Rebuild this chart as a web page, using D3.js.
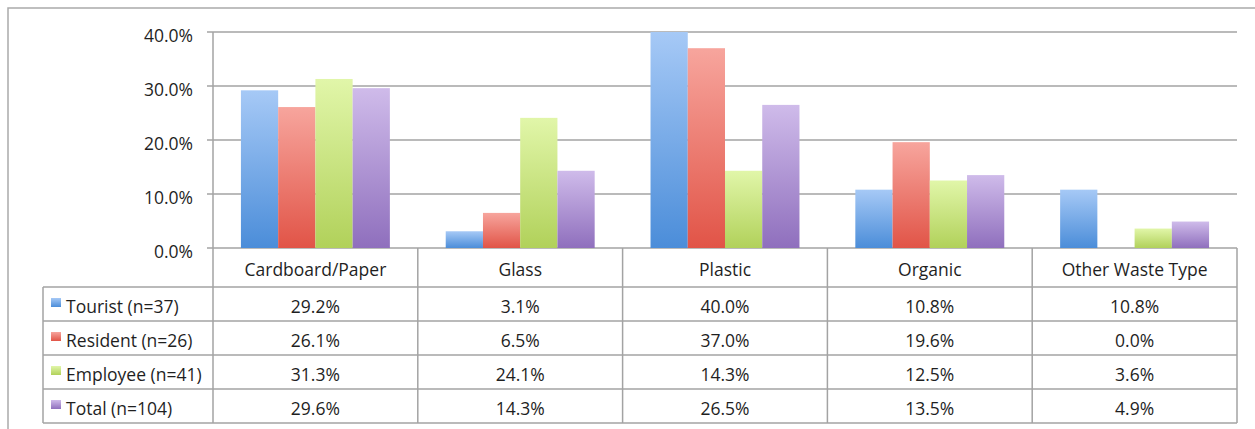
<!DOCTYPE html>
<html>
<head>
<meta charset="utf-8">
<script src="https://cdn.jsdelivr.net/npm/d3@7"></script>
<style>
  html, body { margin: 0; padding: 0; background: #fff; }
  svg { display: block; }
  text { font-family: "Open Sans", sans-serif; font-size: 17.5px; fill: #1f1f1f; }
</style>
</head>
<body>
<svg id="chart" width="1255" height="429"></svg>
<script>
// Waste types (columns of the data table)
const categories = ["Cardboard/Paper", "Glass", "Plastic", "Organic", "Other Waste Type"];

// Respondent groups (rows of the data table / legend)
const seriesNames = ["Tourist (n=37)", "Resident (n=26)", "Employee (n=41)", "Total (n=104)"];

// Share of each waste type, in percent
const tourist  = [29.2, 3.1, 40.0, 10.8, 10.8];
const resident = [26.1, 6.5, 37.0, 19.6, 0.0];
const employee = [31.3, 24.1, 14.3, 12.5, 3.6];
const total    = [29.6, 14.3, 26.5, 13.5, 4.9];

const yTicks = [0, 10, 20, 30, 40];

const seriesValues = [tourist, resident, employee, total];

// Gradient stops per series: light at top, saturated at bottom
const seriesColors = [
  { top: "#a6c9f6", bottom: "#4b8dd9" },
  { top: "#f7a59d", bottom: "#e15447" },
  { top: "#e1f6a9", bottom: "#b1d15a" },
  { top: "#cfbbea", bottom: "#8f6fbd" }
];

const svg = d3.select("#chart");
const gridColor = "#a3a3a3";

const plotLeft = 213, plotRight = 1237, plotTop = 32, plotBottom = 248;
const tableLeft = 43;
const headerBottom = 287, rowH = 34;

const x = d3.scaleBand().domain(categories).range([plotLeft, plotRight]).padding(0);
const xs = d3.scaleBand().domain(d3.range(seriesNames.length))
  .range([0, x.bandwidth()]).paddingInner(0).paddingOuter(0.75);
const y = d3.scaleLinear().domain([0, 40]).range([plotBottom, plotTop]);

// Gradients for bars and legend keys
const defs = svg.append("defs");
const gradUrl = seriesColors.map((c, i) => {
  const g = defs.append("linearGradient").attr("id", "grad" + i)
    .attr("x1", 0).attr("y1", 0).attr("x2", 0).attr("y2", 1);
  g.append("stop").attr("offset", "0%").attr("stop-color", c.top);
  g.append("stop").attr("offset", "100%").attr("stop-color", c.bottom);
  return "url(#grad" + i + ")";
});

// Outer frame (top and left edges)
svg.append("path")
  .attr("d", "M8,429 L8,8 L1255,8")
  .attr("fill", "none").attr("stroke", "#ababab").attr("stroke-width", 1.5);

// Y gridlines with tick stubs
svg.append("g").selectAll("line").data(yTicks).join("line")
  .attr("x1", plotLeft - 6).attr("x2", plotRight)
  .attr("y1", d => y(d)).attr("y2", d => y(d))
  .attr("stroke", gridColor).attr("stroke-width", 1.5);

// Y axis line
svg.append("line")
  .attr("x1", plotLeft).attr("x2", plotLeft)
  .attr("y1", y(40)).attr("y2", plotBottom)
  .attr("stroke", gridColor).attr("stroke-width", 1.5);

// Y tick labels
svg.append("g").selectAll("text").data(yTicks).join("text")
  .attr("x", 193).attr("y", d => y(d) + 9.5)
  .attr("text-anchor", "end")
  .text(d => d3.format(".1f")(d) + "%");

// Bars
const groups = svg.append("g").selectAll("g").data(categories).join("g")
  .attr("transform", d => `translate(${x(d)},0)`);
groups.selectAll("rect")
  .data((cat, ci) => seriesValues.map((vals, si) => ({ si, v: vals[ci] })))
  .join("rect")
  .attr("x", d => xs(d.si))
  .attr("width", xs.bandwidth())
  .attr("y", d => y(d.v))
  .attr("height", d => y(0) - y(d.v))
  .attr("fill", d => gradUrl[d.si]);

// Data table
const table = svg.append("g");
const rowTops = seriesNames.map((_, i) => headerBottom + i * rowH);
const tableBottom = headerBottom + seriesNames.length * rowH;

// horizontal rules
table.selectAll("line.h").data(rowTops.concat([tableBottom])).join("line")
  .attr("class", "h")
  .attr("x1", tableLeft).attr("x2", plotRight)
  .attr("y1", d => d).attr("y2", d => d)
  .attr("stroke", gridColor).attr("stroke-width", 1.5);

// vertical rules
const colEdges = categories.map(c => x(c)).concat([plotRight]);
table.selectAll("line.v").data(colEdges).join("line")
  .attr("class", "v")
  .attr("x1", d => d).attr("x2", d => d)
  .attr("y1", plotBottom).attr("y2", tableBottom)
  .attr("stroke", gridColor).attr("stroke-width", 1.5);
table.append("line")
  .attr("x1", tableLeft).attr("x2", tableLeft)
  .attr("y1", headerBottom).attr("y2", tableBottom)
  .attr("stroke", gridColor).attr("stroke-width", 1.5);

// header labels
table.selectAll("text.hdr").data(categories).join("text")
  .attr("class", "hdr")
  .attr("x", d => x(d) + x.bandwidth() / 2)
  .attr("y", plotBottom + 28)
  .attr("text-anchor", "middle")
  .text(d => d);

// rows: legend key + values
seriesNames.forEach((name, si) => {
  const top = rowTops[si];
  table.append("rect")
    .attr("x", 51).attr("y", top + 11)
    .attr("width", 10).attr("height", 9)
    .attr("fill", gradUrl[si]);
  table.append("text")
    .attr("x", 66).attr("y", top + 26)
    .text(name);
  table.selectAll(null).data(seriesValues[si]).join("text")
    .attr("x", (d, ci) => x(categories[ci]) + x.bandwidth() / 2)
    .attr("y", top + 26)
    .attr("text-anchor", "middle")
    .text(d => d3.format(".1f")(d) + "%");
});
</script>
</body>
</html>
